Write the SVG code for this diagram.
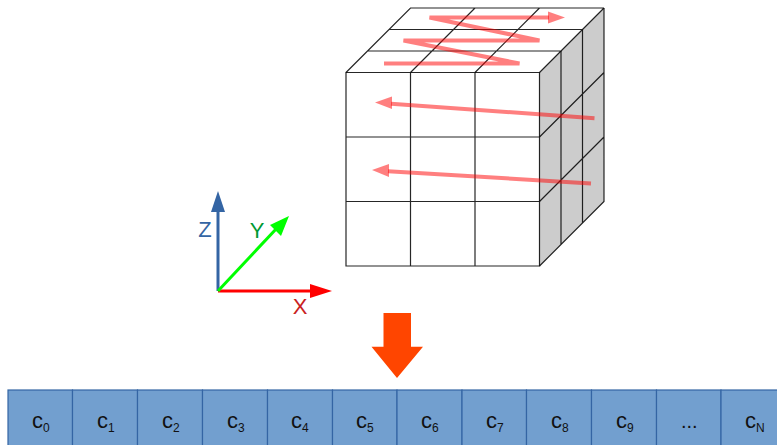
<svg xmlns="http://www.w3.org/2000/svg" width="777" height="445" viewBox="0 0 777 445">
<style>
.g{fill:none;stroke:#000;stroke-width:1.2;stroke-opacity:.85}
.s{fill:#ccc}
.r{fill:none;stroke:#ff0000;stroke-opacity:.5;stroke-width:4}
.h{fill:#ff0000;fill-opacity:.5}
.cell{fill:#729fcf;stroke:#3465a4;stroke-width:1.2}
.t{font-family:"Liberation Sans",Arial,sans-serif;font-size:22px;fill:#111}
.sub{font-size:12px}
.ax{font-family:"Liberation Sans",Arial,sans-serif;font-size:22px;text-anchor:middle}
</style>
<g id="cube">
<path class="s" d="M539.5 72.5L604 8V201.5L539.5 266Z"/>
<path class="g" d="M346 72.5H539.5V266H346ZM410.5 72.5V266M475 72.5V266M346 137H539.5M346 201.5H539.5"/>
<path class="g" d="M346 72.5L410.5 8H604M367.5 51H561M389 29.5H582.5M410.5 72.5L475 8M475 72.5L539.5 8M539.5 72.5L604 8"/>
<path class="g" d="M561 51V244.5M582.5 29.5V223M604 8V201.5L539.5 266M539.5 201.5L604 137M539.5 137L604 72.5"/>
</g>
<g id="scan-arrows">
<path class="r" d="M384 63.5H519.5L403.5 40.5H539.5L429.5 17.5H549"/>
<polygon class="h" points="565,17.5 548,11.5 548,23.5"/>
<path class="r" d="M594.5 118.3L391 103.7"/>
<polygon class="h" points="375,102.5 392,96.5 392,109"/>
<path class="r" d="M591 183.5L388 171.2"/>
<polygon class="h" points="372,170 389,164 389,177"/>
</g>
<g id="axes">
<path d="M218 291V210" fill="none" stroke="#3465a4" stroke-width="3"/>
<polygon points="218,191 211,212 225,212" fill="#3465a4"/>
<path d="M218 291H312" fill="none" stroke="#ff0000" stroke-width="3"/>
<polygon points="332,291 310,284 310,298" fill="#ff0000"/>
<path d="M218 291L277 228" fill="none" stroke="#00ff00" stroke-width="3"/>
<polygon points="289,216 270,225 281,236" fill="#00ff00"/>
<text class="ax" x="205" y="237" fill="#3465a4">Z</text>
<text class="ax" x="257" y="238" fill="#009933">Y</text>
<text class="ax" x="300" y="314" fill="#c9211e">X</text>
</g>
<g id="down-arrow">
<polygon points="383.5,313 411,313 411,346.7 423,346.7 397,378 371.5,346.7 383.5,346.7" fill="#ff4500"/>
</g>
<g id="tape">
<g id="c0"><rect class="cell" x="8" y="390" width="64.5" height="60"/><text class="t" x="32" y="428">c<tspan class="sub" dy="4">0</tspan></text></g>
<g id="c1"><rect class="cell" x="72.5" y="390" width="65" height="60"/><text class="t" x="97" y="428">c<tspan class="sub" dy="4">1</tspan></text></g>
<g id="c2"><rect class="cell" x="137.5" y="390" width="65" height="60"/><text class="t" x="162" y="428">c<tspan class="sub" dy="4">2</tspan></text></g>
<g id="c3"><rect class="cell" x="202.5" y="390" width="65" height="60"/><text class="t" x="227" y="428">c<tspan class="sub" dy="4">3</tspan></text></g>
<g id="c4"><rect class="cell" x="267.5" y="390" width="65" height="60"/><text class="t" x="291" y="428">c<tspan class="sub" dy="4">4</tspan></text></g>
<g id="c5"><rect class="cell" x="332.5" y="390" width="64.5" height="60"/><text class="t" x="356" y="428">c<tspan class="sub" dy="4">5</tspan></text></g>
<g id="c6"><rect class="cell" x="397" y="390" width="65" height="60"/><text class="t" x="421" y="428">c<tspan class="sub" dy="4">6</tspan></text></g>
<g id="c7"><rect class="cell" x="462" y="390" width="64.5" height="60"/><text class="t" x="486" y="428">c<tspan class="sub" dy="4">7</tspan></text></g>
<g id="c8"><rect class="cell" x="526.5" y="390" width="65" height="60"/><text class="t" x="551" y="428">c<tspan class="sub" dy="4">8</tspan></text></g>
<g id="c9"><rect class="cell" x="591.5" y="390" width="65" height="60"/><text class="t" x="616" y="428">c<tspan class="sub" dy="4">9</tspan></text></g>
<g id="dots"><rect class="cell" x="656.5" y="390" width="64.5" height="60"/><text class="t" x="681" y="428" style="font-size:20px">...</text></g>
<g id="cN"><rect class="cell" x="721" y="390" width="65" height="60"/><text class="t" x="745" y="428">c<tspan class="sub" dy="4">N</tspan></text></g>
</g>
</svg>
